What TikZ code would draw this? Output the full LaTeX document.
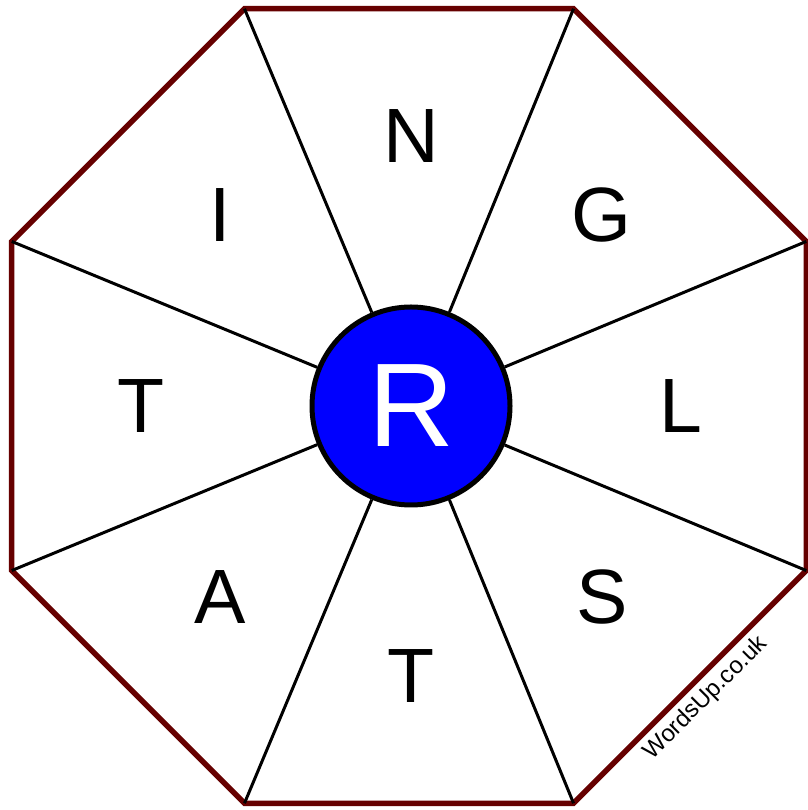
\documentclass[tikz,border=0pt]{standalone}
\usepackage{fontspec}
\setmainfont{Liberation Sans}
\usetikzlibrary{calc}
\definecolor{rimred}{RGB}{102,0,0}
\definecolor{hubblue}{RGB}{0,0,255}

\begin{document}
\begin{tikzpicture}[x=1pt, y=1pt,
    rim/.style={draw=rimred, line width=5.5pt, line join=miter},
    spoke/.style={draw=black, line width=3pt},
    hub/.style={
        circle, draw=black, line width=5pt,
        fill=hubblue, minimum size=198pt, inner sep=0pt,
        text=white, font=\fontsize{119}{119}\selectfont
    },
    letter/.style={font=\fontsize{77}{77}\selectfont},
    webtag/.style={font=\fontsize{24}{24}\selectfont, rotate=45}
]
\useasboundingbox (0,0) rectangle (807,810);

% Octagon corners
\coordinate (c) at (409,404);
\foreach \k in {1,...,8} {
    \coordinate (v\k) at ($(c)+({22.5+45*(\k-1)}:430)$);
}

% ------- Outer rim -------
\draw[rim] (v1) -- (v2) -- (v3) -- (v4) -- (v5) -- (v6) -- (v7) -- (v8) -- cycle;

% ------- Centre letter -------
\node[hub] (hub) at ($(c)+(2,0)$) {R};

% Spokes from hub to corners
\foreach \k in {1,...,8} {
    \draw[spoke] (hub) -- (v\k);
}

% ------- Outer letters -------
\foreach \a/\t [count=\i] in {90/N, 45/G, 0/L, -45/S, -90/T, -135/A, 180/T, 135/I} {
    \node[letter] (ltr\i) at ($(c)+(2,0)+(\a:270)$) {\t};
}

% Watermark
\node[webtag] (tag) at (706,112) {WordsUp.co.uk};
\end{tikzpicture}
\end{document}
